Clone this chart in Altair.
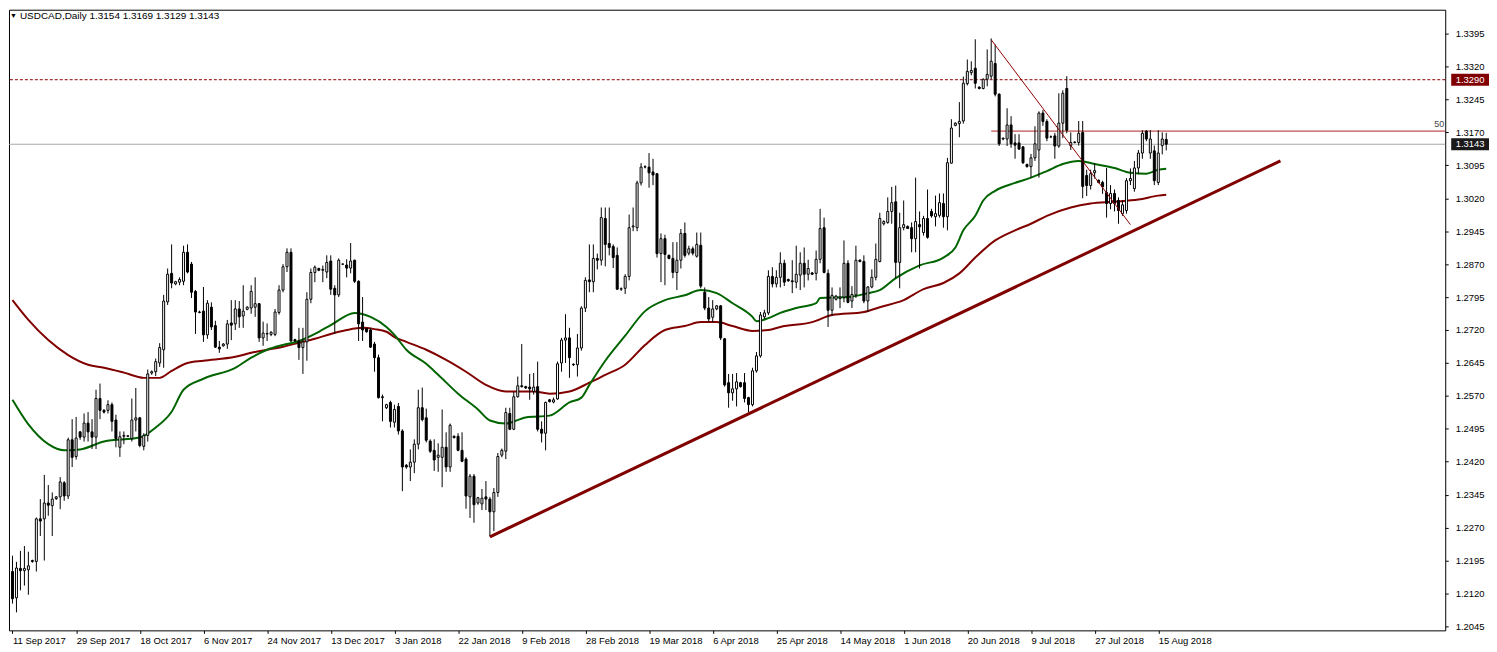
import altair as alt
import pandas as pd

W, H = 1444, 624
FONT = "Liberation Sans"

opens = [
 1.2170,1.2110,1.2177,1.2172,1.2174,1.2195,1.2193,1.2290,1.2290,1.2326,
 1.2320,1.2336,1.2340,1.2372,1.2342,1.2470,1.2432,1.2488,1.2476,1.2508,
 1.2488,1.2476,1.2564,1.2537,1.2537,1.2550,1.2515,1.2453,1.2478,1.2478,
 1.2473,1.2515,1.2520,1.2455,1.2480,1.2622,1.2625,1.2645,1.2675,1.2784,
 1.2849,1.2825,1.2829,1.2831,1.2897,1.2870,1.2808,1.2761,1.2763,1.2709,
 1.2772,1.2730,1.2681,1.2684,1.2688,1.2736,1.2734,1.2768,1.2752,1.2767,
 1.2770,1.2772,1.2780,1.2702,1.2711,1.2710,1.2710,1.2760,1.2811,1.2864,
 1.2897,1.2698,1.2695,1.2680,1.2693,1.2790,1.2851,1.2860,1.2856,1.2852,
 1.2877,1.2815,1.2800,1.2870,1.2868,1.2861,1.2879,1.2831,1.2738,1.2723,
 1.2720,1.2688,1.2657,1.2566,1.2543,1.2555,1.2510,1.2546,1.2490,1.2412,
 1.2408,1.2419,1.2460,1.2543,1.2520,1.2467,1.2446,1.2430,1.2430,1.2453,
 1.2408,1.2478,1.2478,1.2446,1.2426,1.2340,1.2387,1.2326,1.2324,1.2340,
 1.2335,1.2306,1.2350,1.2435,1.2444,1.2530,1.2494,1.2568,1.2593,1.2591,
 1.2590,1.2580,1.2591,1.2494,1.2485,1.2561,1.2556,1.2563,1.2645,1.2697,
 1.2702,1.2642,1.2641,1.2679,1.2770,1.2834,1.2830,1.2883,1.2879,1.2974,
 1.2917,1.2910,1.2890,1.2813,1.2815,1.2842,1.2955,1.2953,1.3055,1.3091,
 1.3091,1.3080,1.3076,1.2894,1.2928,1.2890,1.2883,1.2851,1.2879,1.2940,
 1.2895,1.2905,1.2888,1.2913,1.2806,1.2770,1.2749,1.2768,1.2775,1.2700,
 1.2600,1.2577,1.2586,1.2600,1.2600,1.2566,1.2550,1.2627,1.2661,1.2750,
 1.2759,1.2842,1.2825,1.2840,1.2872,1.2835,1.2832,1.2829,1.2845,1.2872,
 1.2847,1.2850,1.2849,1.2881,1.2953,1.2849,1.2765,1.2790,1.2792,1.2795,
 1.2872,1.2786,1.2800,1.2879,1.2876,1.2786,1.2818,1.2840,1.2876,1.2962,
 1.2965,1.2990,1.3012,1.2874,1.2953,1.2956,1.2953,1.2928,1.2960,1.2942,
 1.2974,1.2990,1.2978,1.2981,1.3008,1.2978,1.3100,1.3186,1.3190,1.3196,
 1.3281,1.3306,1.3316,1.3273,1.3270,1.3291,1.3298,1.3327,1.3257,1.3155,
 1.3155,1.3187,1.3146,1.3146,1.3137,1.3097,1.3092,1.3112,1.3130,1.3214,
 1.3195,1.3160,1.3162,1.3139,1.3191,1.3270,1.3140,1.3147,1.3147,1.3170,
 1.3072,1.3049,1.3078,1.3061,1.3056,1.3033,1.3008,1.3031,1.3015,1.2985,
 1.2992,1.3060,1.3042,1.3089,1.3123,1.3173,1.3123,1.3128,1.3056,1.3140,
 1.3154]

highs = [
 1.2206,1.2192,1.2217,1.2228,1.2215,1.2197,1.2293,1.2335,1.2390,1.2367,
 1.2350,1.2342,1.2385,1.2376,1.2475,1.2517,1.2522,1.2490,1.2530,1.2533,
 1.2517,1.2584,1.2598,1.2540,1.2560,1.2555,1.2527,1.2489,1.2489,1.2480,
 1.2564,1.2588,1.2522,1.2485,1.2630,1.2628,1.2655,1.2690,1.2800,1.2860,
 1.2915,1.2832,1.2840,1.2912,1.2915,1.2875,1.2811,1.2764,1.2818,1.2788,
 1.2783,1.2741,1.2695,1.2690,1.2743,1.2788,1.2788,1.2786,1.2822,1.2774,
 1.2822,1.2840,1.2781,1.2739,1.2735,1.2717,1.2768,1.2822,1.2870,1.2906,
 1.2906,1.2700,1.2725,1.2725,1.2806,1.2860,1.2867,1.2862,1.2867,1.2890,
 1.2890,1.2822,1.2883,1.2872,1.2881,1.2918,1.2880,1.2833,1.2795,1.2725,
 1.2725,1.2693,1.2664,1.2573,1.2552,1.2559,1.2550,1.2554,1.2494,1.2415,
 1.2448,1.2471,1.2584,1.2589,1.2541,1.2471,1.2471,1.2462,1.2539,1.2487,
 1.2507,1.2480,1.2485,1.2487,1.2430,1.2392,1.2392,1.2340,1.2358,1.2376,
 1.2340,1.2360,1.2440,1.2450,1.2543,1.2543,1.2579,1.2614,1.2688,1.2593,
 1.2620,1.2622,1.2648,1.2512,1.2557,1.2563,1.2566,1.2648,1.2702,1.2756,
 1.2725,1.2644,1.2711,1.2774,1.2840,1.2915,1.2915,1.2894,1.2999,1.2999,
 1.2999,1.2915,1.2908,1.2817,1.2847,1.2983,1.2999,1.3060,1.3100,1.3095,
 1.3123,1.3110,1.3076,1.2940,1.2937,1.2892,1.2920,1.2920,1.2950,1.2965,
 1.2912,1.2910,1.2942,1.2942,1.2817,1.2795,1.2788,1.2777,1.2777,1.2702,
 1.2620,1.2620,1.2622,1.2602,1.2622,1.2568,1.2634,1.2670,1.2761,1.2766,
 1.2856,1.2863,1.2856,1.2897,1.2880,1.2837,1.2879,1.2912,1.2897,1.2908,
 1.2880,1.2852,1.2901,1.2996,1.2976,1.2858,1.2817,1.2800,1.2817,1.2924,
 1.2879,1.2820,1.2912,1.2881,1.2890,1.2820,1.2858,1.2917,1.2987,1.2970,
 1.3022,1.3046,1.3049,1.2987,1.3015,1.2958,1.2965,1.3067,1.2990,1.2980,
 1.3040,1.2996,1.3026,1.3031,1.3031,1.3112,1.3200,1.3193,1.3239,1.3297,
 1.3336,1.3332,1.3382,1.3275,1.3293,1.3359,1.3384,1.3370,1.3259,1.3158,
 1.3225,1.3207,1.3166,1.3166,1.3139,1.3099,1.3121,1.3184,1.3218,1.3221,
 1.3200,1.3163,1.3169,1.3259,1.3266,1.3298,1.3170,1.3150,1.3196,1.3196,
 1.3085,1.3085,1.3100,1.3063,1.3060,1.3089,1.3050,1.3040,1.3022,1.3015,
 1.3066,1.3088,1.3105,1.3130,1.3175,1.3175,1.3175,1.3140,1.3175,1.3170,
 1.3169]

lows = [
 1.2097,1.2077,1.2127,1.2138,1.2117,1.2190,1.2170,1.2251,1.2195,1.2297,
 1.2251,1.2333,1.2312,1.2331,1.2335,1.2408,1.2425,1.2470,1.2466,1.2466,
 1.2449,1.2449,1.2517,1.2530,1.2530,1.2489,1.2453,1.2431,1.2460,1.2476,
 1.2466,1.2489,1.2453,1.2446,1.2466,1.2618,1.2615,1.2636,1.2634,1.2777,
 1.2815,1.2822,1.2822,1.2822,1.2849,1.2793,1.2711,1.2758,1.2693,1.2700,
 1.2720,1.2679,1.2668,1.2682,1.2677,1.2697,1.2720,1.2725,1.2725,1.2765,
 1.2757,1.2750,1.2693,1.2684,1.2695,1.2706,1.2706,1.2755,1.2806,1.2852,
 1.2693,1.2693,1.2652,1.2620,1.2650,1.2781,1.2829,1.2854,1.2829,1.2838,
 1.2800,1.2711,1.2795,1.2868,1.2840,1.2849,1.2827,1.2695,1.2695,1.2714,
 1.2679,1.2625,1.2564,1.2512,1.2540,1.2498,1.2498,1.2482,1.2353,1.2404,
 1.2376,1.2394,1.2448,1.2512,1.2464,1.2440,1.2399,1.2397,1.2362,1.2397,
 1.2397,1.2473,1.2444,1.2419,1.2313,1.2292,1.2281,1.2322,1.2310,1.2310,
 1.2250,1.2262,1.2340,1.2430,1.2426,1.2492,1.2492,1.2566,1.2589,1.2586,
 1.2561,1.2573,1.2489,1.2464,1.2446,1.2555,1.2553,1.2561,1.2625,1.2645,
 1.2611,1.2638,1.2614,1.2673,1.2761,1.2806,1.2806,1.2858,1.2867,1.2865,
 1.2890,1.2861,1.2811,1.2809,1.2802,1.2833,1.2945,1.2945,1.3049,1.3088,
 1.3044,1.3050,1.2885,1.2829,1.2822,1.2881,1.2838,1.2811,1.2860,1.2885,
 1.2890,1.2890,1.2885,1.2815,1.2765,1.2738,1.2738,1.2765,1.2697,1.2591,
 1.2543,1.2559,1.2546,1.2589,1.2555,1.2532,1.2546,1.2623,1.2657,1.2745,
 1.2754,1.2817,1.2817,1.2817,1.2820,1.2830,1.2804,1.2815,1.2811,1.2817,
 1.2833,1.2845,1.2833,1.2872,1.2849,1.2727,1.2752,1.2787,1.2770,1.2783,
 1.2781,1.2770,1.2793,1.2874,1.2781,1.2761,1.2815,1.2833,1.2874,1.2958,
 1.2962,1.2962,1.2838,1.2815,1.2947,1.2950,1.2897,1.2897,1.2860,1.2935,
 1.2928,1.2976,1.2956,1.2976,1.2953,1.2947,1.3099,1.3184,1.3159,1.3190,
 1.3277,1.3300,1.3270,1.3268,1.3268,1.3275,1.3291,1.3252,1.3139,1.3152,
 1.3139,1.3135,1.3110,1.3130,1.3098,1.3090,1.3067,1.3105,1.3067,1.3185,
 1.3150,1.3157,1.3110,1.3135,1.3157,1.3168,1.3130,1.3145,1.3140,1.3020,
 1.3025,1.3040,1.3065,1.3054,1.3030,1.2976,1.2995,1.2990,1.2962,1.2980,
 1.2985,1.3050,1.3035,1.3075,1.3110,1.3150,1.3110,1.3050,1.3050,1.3120,
 1.3129]

closes = [
 1.2108,1.2178,1.2172,1.2177,1.2183,1.2193,1.2290,1.2285,1.2326,1.2321,
 1.2335,1.2340,1.2374,1.2342,1.2470,1.2430,1.2474,1.2476,1.2508,1.2488,
 1.2476,1.2564,1.2537,1.2533,1.2550,1.2512,1.2473,1.2477,1.2480,1.2479,
 1.2515,1.2520,1.2457,1.2480,1.2620,1.2625,1.2648,1.2680,1.2786,1.2847,
 1.2827,1.2830,1.2835,1.2897,1.2852,1.2806,1.2761,1.2760,1.2709,1.2781,
 1.2727,1.2681,1.2677,1.2688,1.2734,1.2731,1.2768,1.2750,1.2763,1.2772,
 1.2808,1.2780,1.2702,1.2713,1.2712,1.2715,1.2761,1.2811,1.2864,1.2897,
 1.2695,1.2695,1.2680,1.2693,1.2790,1.2851,1.2863,1.2856,1.2858,1.2874,
 1.2813,1.2800,1.2879,1.2870,1.2861,1.2877,1.2831,1.2734,1.2720,1.2716,
 1.2681,1.2657,1.2566,1.2568,1.2550,1.2512,1.2539,1.2490,1.2408,1.2408,
 1.2419,1.2460,1.2543,1.2516,1.2469,1.2444,1.2424,1.2435,1.2453,1.2408,
 1.2503,1.2475,1.2446,1.2421,1.2342,1.2387,1.2322,1.2338,1.2337,1.2335,
 1.2306,1.2350,1.2432,1.2446,1.2532,1.2494,1.2568,1.2593,1.2591,1.2588,
 1.2586,1.2590,1.2494,1.2485,1.2555,1.2557,1.2561,1.2643,1.2697,1.2702,
 1.2657,1.2641,1.2679,1.2770,1.2833,1.2830,1.2883,1.2879,1.2976,1.2915,
 1.2908,1.2885,1.2813,1.2814,1.2842,1.2953,1.2957,1.3055,1.3091,1.3092,
 1.3078,1.3073,1.2894,1.2928,1.2892,1.2883,1.2851,1.2879,1.2940,1.2890,
 1.2905,1.2895,1.2915,1.2820,1.2770,1.2745,1.2768,1.2775,1.2702,1.2595,
 1.2577,1.2586,1.2602,1.2591,1.2564,1.2550,1.2627,1.2661,1.2754,1.2759,
 1.2842,1.2825,1.2840,1.2872,1.2829,1.2832,1.2830,1.2847,1.2872,1.2847,
 1.2860,1.2847,1.2881,1.2951,1.2851,1.2765,1.2799,1.2797,1.2795,1.2872,
 1.2783,1.2801,1.2879,1.2876,1.2786,1.2818,1.2840,1.2881,1.2974,1.2967,
 1.2990,1.3010,1.2874,1.2953,1.2960,1.2951,1.2928,1.2967,1.2955,1.2974,
 1.2931,1.2980,1.2985,1.3010,1.2978,1.3101,1.3180,1.3191,1.3195,1.3282,
 1.3309,1.3311,1.3282,1.3270,1.3291,1.3302,1.3332,1.3257,1.3144,1.3157,
 1.3187,1.3144,1.3141,1.3132,1.3101,1.3092,1.3112,1.3144,1.3214,1.3195,
 1.3157,1.3160,1.3139,1.3191,1.3259,1.3175,1.3147,1.3148,1.3168,1.3047,
 1.3049,1.3076,1.3083,1.3056,1.3046,1.3008,1.3031,1.3008,1.2992,1.3005,
 1.3060,1.3065,1.3089,1.3123,1.3168,1.3155,1.3155,1.3060,1.3123,1.3155,
 1.3143]

# x-axis date labels (every 16 bars)
tick_bars = [0, 16, 32, 48, 64, 80, 96, 112, 128, 144, 160, 176, 192, 208, 224, 240, 256, 272, 288]
tick_dates = ["11 Sep 2017", "29 Sep 2017", "18 Oct 2017", "6 Nov 2017", "24 Nov 2017",
              "13 Dec 2017", "3 Jan 2018", "22 Jan 2018", "9 Feb 2018", "28 Feb 2018",
              "19 Mar 2018", "6 Apr 2018", "25 Apr 2018", "14 May 2018", "1 Jun 2018",
              "20 Jun 2018", "9 Jul 2018", "27 Jul 2018", "15 Aug 2018"]

price_ticks = [1.2045, 1.2120, 1.2195, 1.2270, 1.2345, 1.2420, 1.2495, 1.2570, 1.2645,
               1.2720, 1.2795, 1.2870, 1.2945, 1.3020, 1.3095, 1.3170, 1.3245, 1.3320, 1.3395]

# moving averages
fast_bars = [0,4,9,13,17,23,32,36,40,43,48,56,60,64,68,72,77,80,86,90,
             94,96,99,104,107,112,117,120,124,129,135,140,143,145,149,154,159,164,169,173,
             177,181,186,187,190,193,197,202,203,210,215,218,222,228,234,237,239,242,244,247,
             252,256,260,264,268,272,277,281,285,288,290]
fast_vals = [1.2561,1.2505,1.2460,1.2446,1.2448,1.2466,1.2475,1.2498,1.2534,1.2584,
             1.2609,1.2634,1.2657,1.2675,1.2686,1.2695,1.2716,1.2731,1.2759,1.2750,
             1.2727,1.2709,1.2675,1.2643,1.2618,1.2575,1.2539,1.2514,1.2507,1.2521,
             1.2525,1.2555,1.2566,1.2595,1.2650,1.2707,1.2763,1.2788,1.2799,1.2811,
             1.2804,1.2781,1.2750,1.2740,1.2747,1.2759,1.2770,1.2781,1.2793,1.2795,
             1.2804,1.2811,1.2838,1.2867,1.2885,1.2908,1.2947,1.2980,1.3015,1.3037,
             1.3055,1.3067,1.3082,1.3098,1.3105,1.3098,1.3089,1.3078,1.3076,1.3085,
             1.3087]
slow_bars = [0,4,9,14,19,23,28,33,37,40,44,48,56,60,64,68,72,76,80,84,
             88,91,94,96,99,104,109,114,119,124,131,135,140,145,149,154,159,164,169,173,
             177,181,186,190,193,201,206,214,218,224,229,234,238,242,247,252,256,260,266,271,
             277,283,288,290]
slow_vals = [1.2788,1.2743,1.2697,1.2663,1.2641,1.2634,1.2623,1.2611,1.2611,1.2627,
             1.2645,1.2650,1.2659,1.2668,1.2675,1.2682,1.2691,1.2700,1.2711,1.2720,
             1.2725,1.2722,1.2716,1.2704,1.2693,1.2675,1.2652,1.2625,1.2595,1.2580,
             1.2580,1.2575,1.2580,1.2600,1.2618,1.2641,1.2686,1.2720,1.2729,1.2738,
             1.2738,1.2729,1.2718,1.2720,1.2727,1.2738,1.2754,1.2761,1.2772,1.2788,
             1.2813,1.2827,1.2849,1.2885,1.2924,1.2947,1.2962,1.2980,1.2999,1.3008,
             1.3012,1.3017,1.3026,1.3028]

# drawn objects
trend_bars = [120, 318.7]
trend_vals = [1.2249, 1.3105]
diag_bars = [246, 281]
diag_vals = [1.3381, 1.2960]
resist_start = [246]
resist_level = [1.3173]
dashed_level = [1.3290]
bid_level = [1.3143]
tag_levels = [1.3290, 1.3143]
tag_labels = ["1.3290", "1.3143"]
tag_colors = ["#800000", "#1a1a1a"]
header = "USDCAD,Daily  1.3154 1.3169 1.3129 1.3143"

n = len(closes)
candles = pd.DataFrame({
    "i": list(range(n)),
    "o": opens, "c": closes,
    "h": [max(a, b, c) for a, b, c in zip(highs, opens, closes)],
    "l": [min(a, b, c) for a, b, c in zip(lows, opens, closes)],
})

xs = alt.Scale(domain=[-0.875, -0.875 + W / 4.0], nice=False, zero=False, padding=0)
ys = alt.Scale(domain=[1.2036, 1.34494], nice=False, zero=False, padding=0)

date_expr = "[" + ",".join("'%s'" % d for d in tick_dates) + "][round(datum.value/16)]"
x_axis = alt.Axis(values=tick_bars, labelExpr=date_expr, title=None, grid=False, domain=False,
                  tickSize=3, tickColor="black", labelAlign="left", labelPadding=2,
                  labelFont=FONT, labelFontSize=9.5, labelColor="black",
                  labelOverlap=False, labelFlush=False)
y_axis = alt.Axis(orient="right", values=price_ticks, format=".4f", title=None, grid=False,
                  domain=False, tickSize=3, tickColor="black", labelPadding=7,
                  labelFont=FONT, labelFontSize=9.5, labelColor="black",
                  labelOverlap=False, labelFlush=False)

def X(f):
    return alt.X(f, type="quantitative", scale=xs, axis=x_axis)

def Y(f):
    return alt.Y(f, type="quantitative", scale=ys, axis=y_axis)

bid_rule = alt.Chart(pd.DataFrame({"v": bid_level})).mark_rule(
    color="#a8a8a8", strokeWidth=1).encode(y=Y("v"))
dash_rule = alt.Chart(pd.DataFrame({"v": dashed_level})).mark_rule(
    color="#8b0000", strokeWidth=1, strokeDash=[3, 2]).encode(y=Y("v"))
resist = alt.Chart(pd.DataFrame({"i": resist_start, "v": resist_level})).mark_rule(
    color="#b22222", strokeWidth=1).encode(x=X("i"), x2=alt.value(W), y=Y("v"))
resist_txt = alt.Chart(pd.DataFrame({"v": resist_level})).mark_text(
    align="right", baseline="bottom", dy=-2, font=FONT, fontSize=9, color="#444444").encode(
    x=alt.value(W - 1), y=Y("v"), text=alt.value("50"))

slow_ma = alt.Chart(pd.DataFrame({"i": slow_bars, "v": slow_vals})).mark_line(
    color="#800000", strokeWidth=2, interpolate="monotone").encode(x=X("i"), y=Y("v"))
fast_ma = alt.Chart(pd.DataFrame({"i": fast_bars, "v": fast_vals})).mark_line(
    color="#006400", strokeWidth=2, interpolate="monotone").encode(x=X("i"), y=Y("v"))

wicks = alt.Chart(candles).mark_rule(color="black", strokeWidth=1).encode(
    x=X("i"), y=Y("l"), y2="h:Q")
bodies = alt.Chart(candles).mark_bar(width=2, stroke="black", strokeWidth=1).encode(
    x=X("i"), y=Y("o"), y2="c:Q",
    fill=alt.condition("datum.c >= datum.o", alt.value("white"), alt.value("black")))

trend = alt.Chart(pd.DataFrame({"i": trend_bars, "v": trend_vals})).mark_line(
    color="#800000", strokeWidth=3).encode(x=X("i"), y=Y("v"))
diag = alt.Chart(pd.DataFrame({"i": diag_bars, "v": diag_vals})).mark_line(
    color="#8b0000", strokeWidth=1).encode(x=X("i"), y=Y("v"))

tags_df = pd.DataFrame({"v": tag_levels, "label": tag_labels, "bg": tag_colors})
tag_box = alt.Chart(tags_df).mark_tick(orient="horizontal", size=38, thickness=12, opacity=1).encode(
    x=alt.value(W + 25), y=Y("v"), color=alt.Color("bg:N", scale=None, legend=None))
tag_txt = alt.Chart(tags_df).mark_text(color="white", font=FONT, fontSize=9.5, baseline="middle").encode(
    x=alt.value(W + 25), y=Y("v"), text="label:N")

one = pd.DataFrame({"a": [0]})
head_tri = alt.Chart(one).mark_text(align="left", baseline="middle", fontSize=7, color="black").encode(
    x=alt.value(1), y=alt.value(6), text=alt.value("\u25BC"))
head_txt = alt.Chart(one).mark_text(align="left", baseline="middle", font=FONT, fontSize=10,
                                    color="black").encode(
    x=alt.value(11), y=alt.value(6), text=alt.value(header))

chart = alt.layer(
    bid_rule, dash_rule, resist, resist_txt, slow_ma, fast_ma, wicks, bodies,
    trend, diag, tag_box, tag_txt, head_tri, head_txt
).properties(width=W, height=H, padding=0, background="white").configure_view(
    stroke="black", strokeWidth=1)

chart.save("out.html", embed_options={"renderer": "svg", "actions": False})
